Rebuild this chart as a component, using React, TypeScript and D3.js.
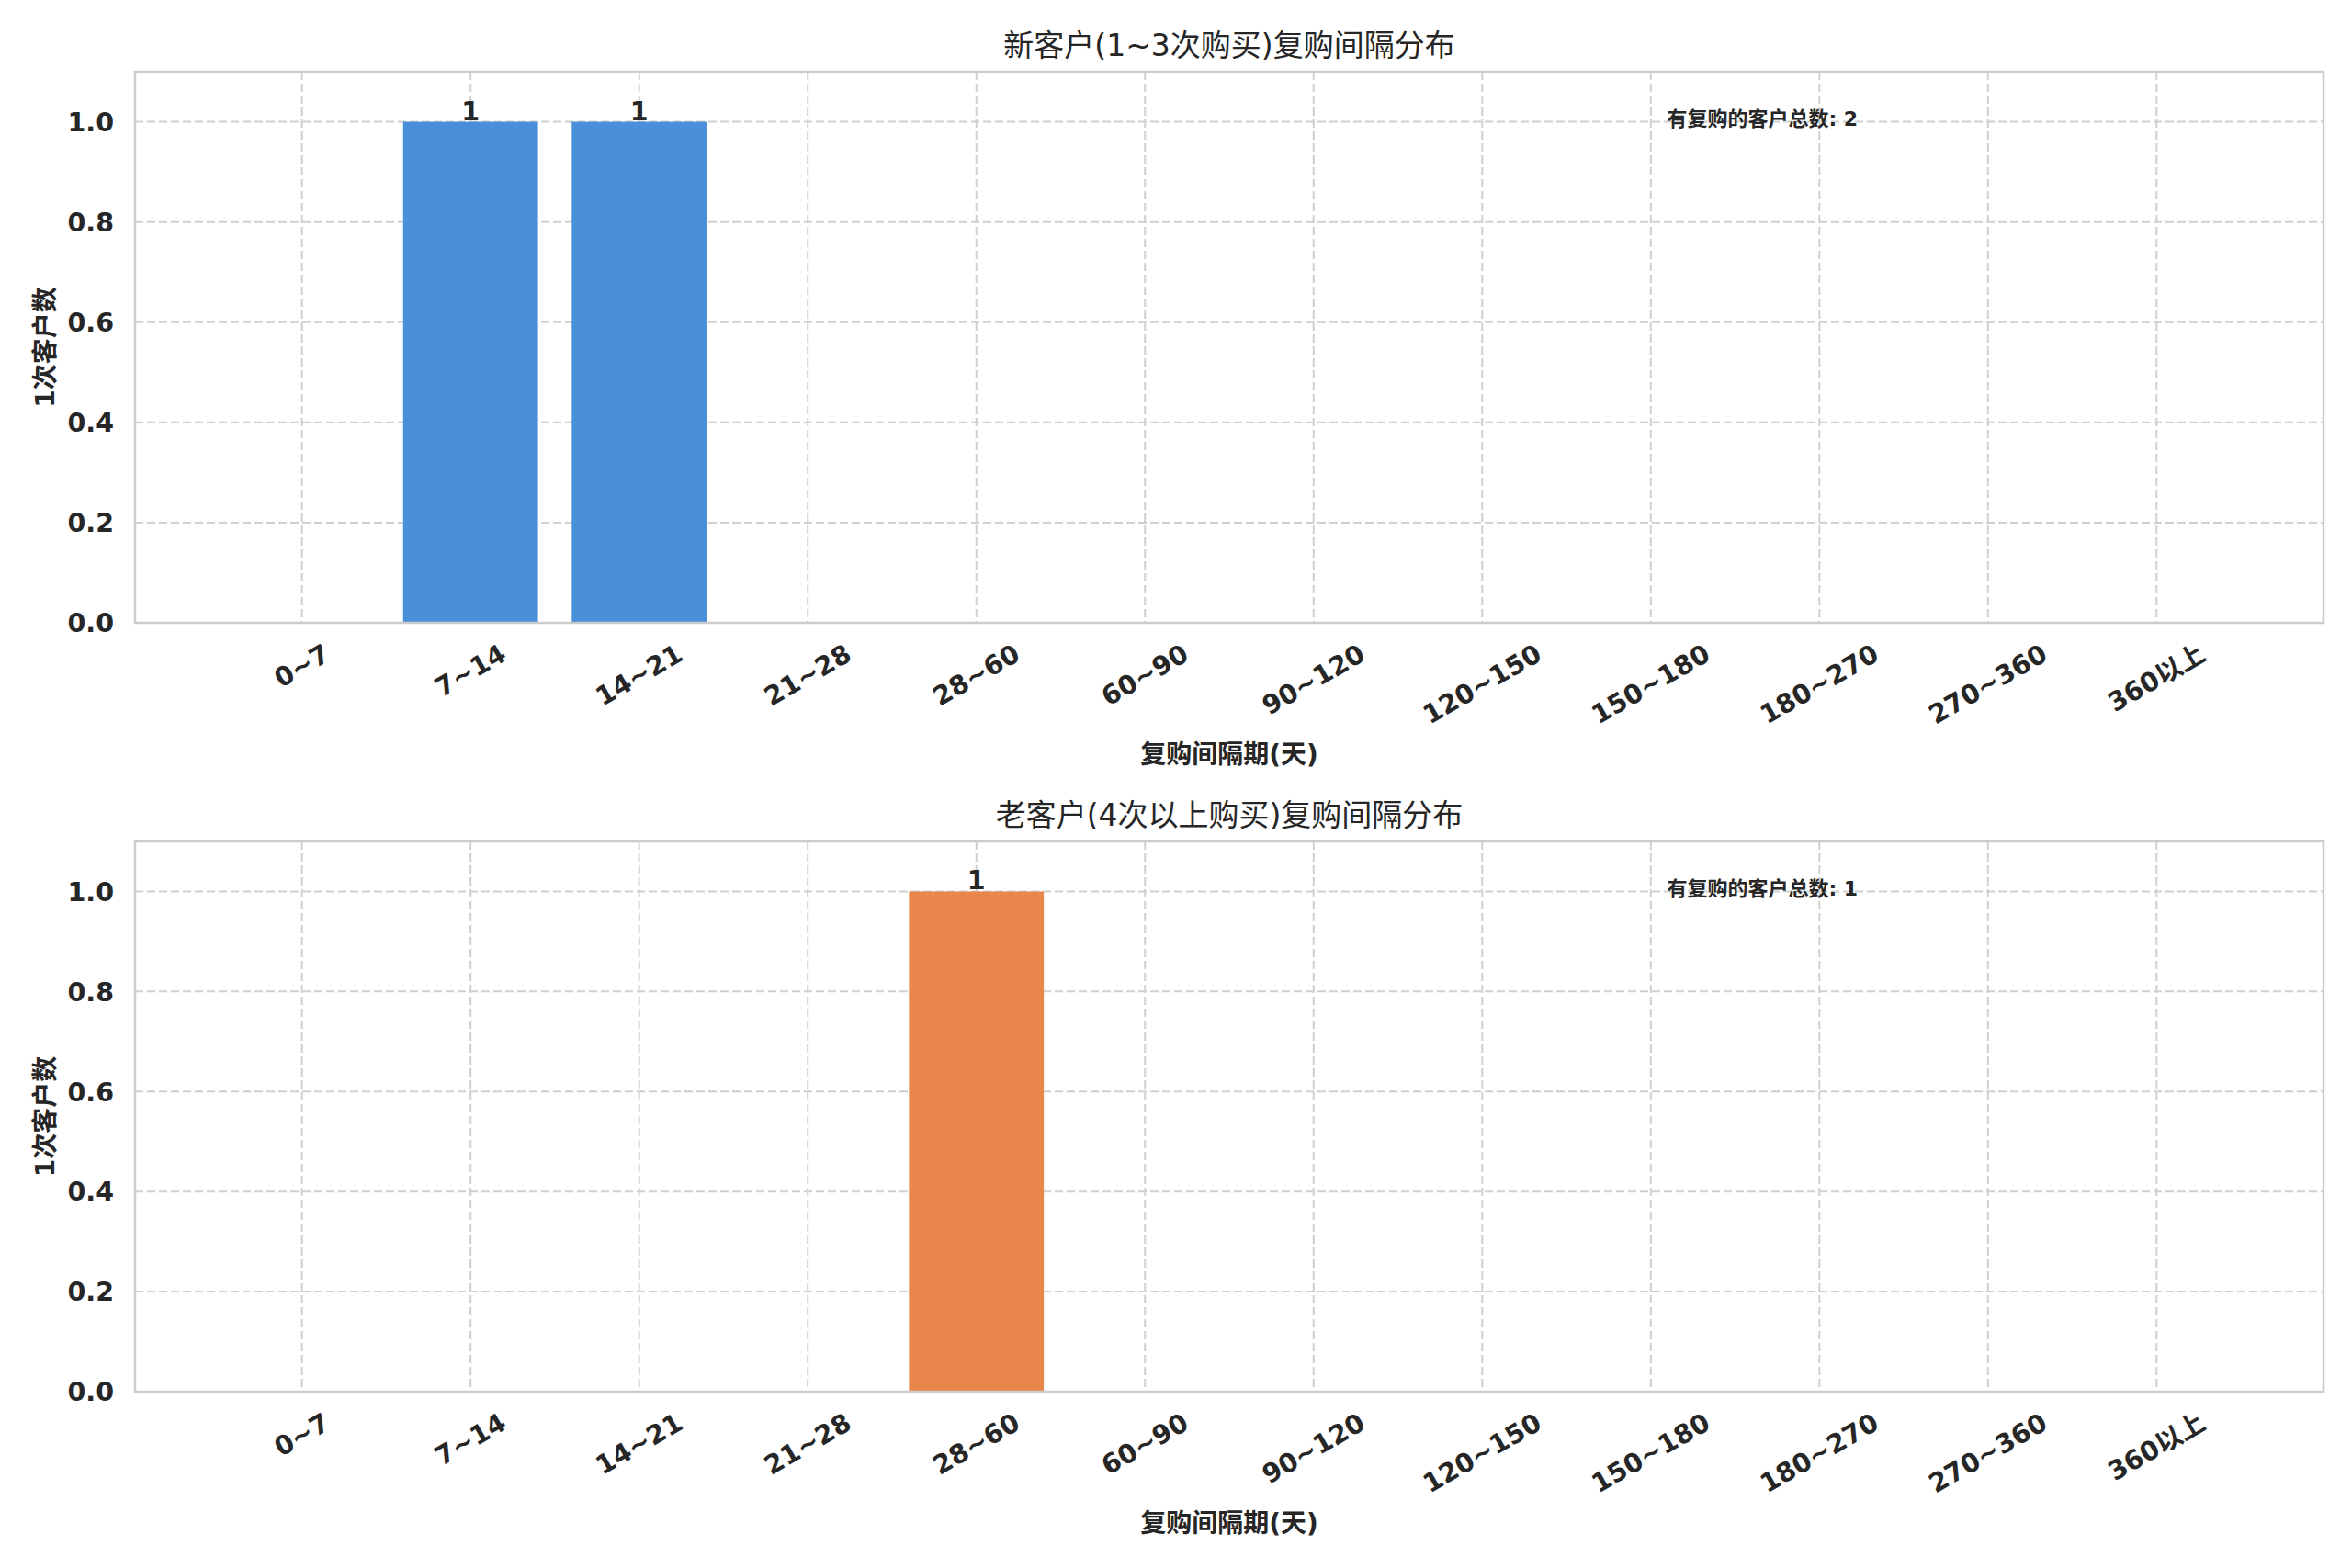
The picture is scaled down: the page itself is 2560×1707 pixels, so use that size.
import React, { useEffect, useRef } from 'react';
import * as d3 from 'd3';

// interval buckets (days)
const categories = ['0~7', '7~14', '14~21', '21~28', '28~60', '60~90', '90~120', '120~150', '150~180', '180~270', '270~360', '360以上'];
const newCustomerCounts = [0, 1, 1, 0, 0, 0, 0, 0, 0, 0, 0, 0];
const oldCustomerCounts = [0, 0, 0, 0, 1, 0, 0, 0, 0, 0, 0, 0];
const yTicks = [0, 0.2, 0.4, 0.6, 0.8, 1.0];
const titles = ['新客户(1~3次购买)复购间隔分布', '老客户(4次以上购买)复购间隔分布'];
const totals = [2, 1];
const xLabel = '复购间隔期(天)';
const yLabel = '1次客户数';
const noteLabel = '有复购的客户总数';

const W = 2560;
const H = 1707;
const FONT = "'DejaVu Sans', 'Noto Sans CJK SC', sans-serif";
const TEXT = '#262626';

const App: React.FC = () => {
    const svgRef = useRef<SVGSVGElement | null>(null);

    useEffect(() => {
        if (!svgRef.current) return;
        const svg = d3.select(svgRef.current);
        svg.selectAll('*').remove();

        svg.append('rect').attr('width', W).attr('height', H).attr('fill', '#ffffff');

        const left = 147;
        const right = 2529;
        const panels = [
            { top: 78, bottom: 678, counts: newCustomerCounts, color: '#4a90d9' },
            { top: 916, bottom: 1515, counts: oldCustomerCounts, color: '#e8864b' },
        ];

        const n = categories.length;
        const barW = 0.8;
        const lo = -barW / 2;
        const hi = n - 1 + barW / 2;
        const m = (hi - lo) * 0.05;
        const x = d3.scaleLinear().domain([lo - m, hi + m]).range([left, right]);
        const fs = 28.5;

        panels.forEach((p, pi) => {
            const y = d3.scaleLinear().domain([0, 1.1]).range([p.bottom, p.top]);
            const g = svg.append('g');

            // grid
            g.selectAll('.hgrid')
                .data(yTicks)
                .enter()
                .append('line')
                .attr('x1', left)
                .attr('x2', right)
                .attr('y1', (d) => y(d))
                .attr('y2', (d) => y(d))
                .attr('stroke', '#d0d0d0')
                .attr('stroke-width', 2)
                .attr('stroke-dasharray', '9,4');
            g.selectAll('.vgrid')
                .data(categories)
                .enter()
                .append('line')
                .attr('x1', (_d, i) => x(i))
                .attr('x2', (_d, i) => x(i))
                .attr('y1', p.top)
                .attr('y2', p.bottom)
                .attr('stroke', '#d0d0d0')
                .attr('stroke-width', 2)
                .attr('stroke-dasharray', '9,4');

            // bars
            g.selectAll('.bar')
                .data(p.counts)
                .enter()
                .append('rect')
                .attr('x', (_d, i) => x(i - barW / 2))
                .attr('width', x(barW) - x(0))
                .attr('y', (d) => y(d))
                .attr('height', (d) => p.bottom - y(d))
                .attr('fill', p.color);

            // bar value labels
            p.counts.forEach((v, i) => {
                if (v <= 0) return;
                g.append('text')
                    .attr('x', x(i))
                    .attr('y', y(v) - 2)
                    .attr('text-anchor', 'middle')
                    .attr('font-family', FONT)
                    .attr('font-weight', 'bold')
                    .attr('font-size', fs)
                    .attr('fill', TEXT)
                    .text(String(v));
            });

            // spines
            g.append('rect')
                .attr('x', left)
                .attr('y', p.top)
                .attr('width', right - left)
                .attr('height', p.bottom - p.top)
                .attr('fill', 'none')
                .attr('stroke', '#cccccc')
                .attr('stroke-width', 2.5);

            // y ticks
            g.selectAll('.ytick')
                .data(yTicks)
                .enter()
                .append('text')
                .attr('x', left - 23)
                .attr('y', (d) => y(d))
                .attr('dy', '0.36em')
                .attr('text-anchor', 'end')
                .attr('font-family', FONT)
                .attr('font-weight', 'bold')
                .attr('font-size', fs)
                .attr('fill', TEXT)
                .text((d) => d3.format('.1f')(d));

            // x ticks, rotated 30deg, bbox centred on tick
            const ang = (30 * Math.PI) / 180;
            categories.forEach((c, i) => {
                const t = g.append('text')
                    .attr('text-anchor', 'middle')
                    .attr('dominant-baseline', 'central')
                    .attr('font-family', FONT)
                    .attr('font-weight', 'bold')
                    .attr('font-size', fs)
                    .attr('fill', TEXT)
                    .text(c);
                const w = (t.node() as SVGTextElement).getComputedTextLength();
                const h = w * Math.sin(ang) + fs * 1.0 * Math.cos(ang);
                t.attr('transform', `translate(${x(i)},${p.bottom + 19 + h / 2}) rotate(-30)`);
            });

            // axis labels
            g.append('text')
                .attr('x', (left + right) / 2)
                .attr('y', p.bottom + 143)
                .attr('dy', '0.36em')
                .attr('text-anchor', 'middle')
                .attr('font-family', FONT)
                .attr('font-weight', 'bold')
                .attr('font-size', 28)
                .attr('fill', TEXT)
                .text(xLabel);
            g.append('text')
                .attr('transform', `translate(49,${(p.top + p.bottom) / 2}) rotate(-90)`)
                .attr('dy', '0.36em')
                .attr('text-anchor', 'middle')
                .attr('font-family', FONT)
                .attr('font-weight', 'bold')
                .attr('font-size', 28)
                .attr('fill', TEXT)
                .text(yLabel);

            // title
            g.append('text')
                .attr('x', (left + right) / 2)
                .attr('y', p.top - 29)
                .attr('dy', '0.36em')
                .attr('text-anchor', 'middle')
                .attr('font-family', FONT)
                .attr('font-size', 33)
                .attr('fill', TEXT)
                .text(titles[pi]);

            // total note
            g.append('text')
                .attr('x', left + 0.7 * (right - left))
                .attr('y', p.top + 0.085 * (p.bottom - p.top))
                .attr('dy', '0.36em')
                .attr('font-family', FONT)
                .attr('font-weight', 'bold')
                .attr('font-size', 22)
                .attr('fill', TEXT)
                .text(`${noteLabel}: ${totals[pi]}`);
        });
    }, []);

    return (
        <>
            <style>{'body{margin:0}'}</style>
            <svg ref={svgRef} width={W} height={H} style={{ display: 'block' }} />
        </>
    );
};

export default App;
